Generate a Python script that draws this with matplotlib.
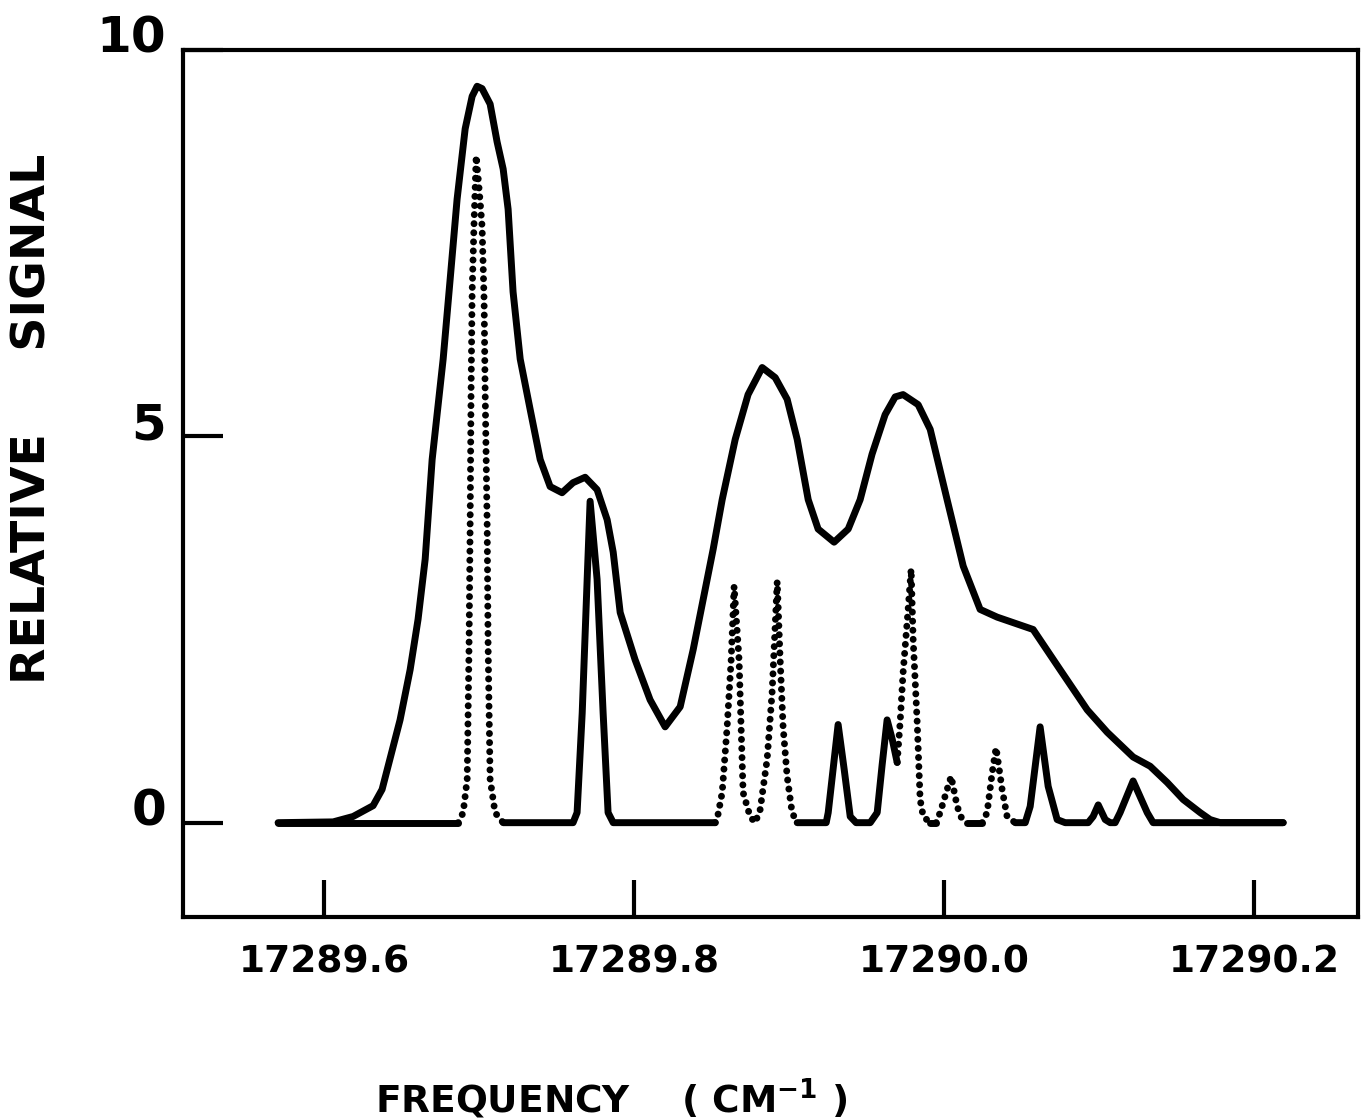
import numpy as np
import matplotlib
matplotlib.use("Agg")
import matplotlib.pyplot as plt
import matplotlib.transforms as mtransforms

# ---------------- data ----------------
# Observed (broad) envelope
env_x = [17289.5703, 17289.6058, 17289.6187, 17289.6316, 17289.6374, 17289.6490,
         17289.6555, 17289.6606, 17289.6652, 17289.6697, 17289.6768, 17289.6813,
         17289.6858, 17289.6910, 17289.6955, 17289.6987, 17289.7019, 17289.7071, 17289.7116,
         17289.7155, 17289.7187, 17289.7219, 17289.7265, 17289.7329, 17289.7394,
         17289.7458, 17289.7535, 17289.7606, 17289.7684, 17289.7761, 17289.7826,
         17289.7865, 17289.7910, 17289.8006, 17289.8103, 17289.8200, 17289.8297,
         17289.8381, 17289.8510, 17289.8568, 17289.8652, 17289.8735, 17289.8826,
         17289.8910, 17289.8987, 17289.9052, 17289.9123, 17289.9187, 17289.9290,
         17289.9381, 17289.9458, 17289.9535, 17289.9619, 17289.9684, 17289.9735,
         17289.9832, 17289.9910, 17290.0019, 17290.0123, 17290.0232, 17290.0342,
         17290.0574, 17290.0748, 17290.0923, 17290.1052, 17290.1219, 17290.1329,
         17290.1439, 17290.1542, 17290.1652, 17290.1716, 17290.1781, 17290.2187]
env_y = [0.00, 0.01, 0.08, 0.22, 0.43, 1.33,
         1.98, 2.63, 3.41, 4.70, 6.00, 7.03,
         8.07, 8.98, 9.40, 9.53, 9.50, 9.30, 8.81,
         8.46, 7.94, 6.87, 6.00, 5.35, 4.70,
         4.35, 4.27, 4.40, 4.47, 4.31, 3.92,
         3.50, 2.72, 2.11, 1.59, 1.24, 1.50,
         2.24, 3.54, 4.18, 4.96, 5.54, 5.89,
         5.76, 5.48, 4.96, 4.18, 3.80, 3.63,
         3.80, 4.18, 4.77, 5.28, 5.51, 5.54,
         5.41, 5.09, 4.18, 3.32, 2.76, 2.66,
         2.50, 1.98, 1.46, 1.17, 0.85, 0.73,
         0.52, 0.30, 0.13, 0.04, 0.00, 0.00]

# Calculated line spectrum (narrow peaks)
line_x = [17289.5703, 17289.6865,
          17289.6897, 17289.6923, 17289.6935, 17289.6942, 17289.6948, 17289.6955, 17289.6968, 17289.6981,
          17289.7000, 17289.7019, 17289.7032, 17289.7039, 17289.7052, 17289.7058, 17289.7071, 17289.7103, 17289.7155,
          17289.7606, 17289.7632, 17289.7665, 17289.7697, 17289.7716, 17289.7761, 17289.7800, 17289.7832, 17289.7865,
          17289.8523, 17289.8535, 17289.8568, 17289.8600, 17289.8626, 17289.8645, 17289.8677, 17289.8690, 17289.8703,
          17289.8748, 17289.8781, 17289.8813, 17289.8858, 17289.8890, 17289.8923, 17289.8942, 17289.8961, 17289.8987,
          17289.9019, 17289.9052,
          17289.9239, 17289.9252, 17289.9316, 17289.9355, 17289.9394, 17289.9432,
          17289.9523, 17289.9568, 17289.9600, 17289.9632, 17289.9665, 17289.9697,
          17289.9716, 17289.9735, 17289.9761, 17289.9787, 17289.9800, 17289.9826, 17289.9845, 17289.9865, 17289.9910,
          17289.9948, 17289.9974, 17290.0013, 17290.0045, 17290.0084, 17290.0116, 17290.0148,
          17290.0245, 17290.0277, 17290.0310, 17290.0335, 17290.0374, 17290.0406, 17290.0458,
          17290.0523, 17290.0555, 17290.0619, 17290.0671, 17290.0729, 17290.0781,
          17290.0929, 17290.0961, 17290.0994, 17290.1039, 17290.1071,
          17290.1103, 17290.1135, 17290.1219, 17290.1310, 17290.1348, 17290.2187]
line_y = [0.00, 0.00,
          0.13, 0.56, 2.28, 3.83, 5.57, 6.87, 7.81, 8.63,
          8.20, 7.72, 6.77, 5.57, 3.83, 2.28, 0.56, 0.13, 0.00,
          0.00, 0.13, 1.42, 3.15, 4.16, 3.15, 1.42, 0.13, 0.00,
          0.00, 0.04, 0.39, 1.24, 2.11, 3.06, 2.11, 1.24, 0.39,
          0.08, 0.00, 0.17, 0.82, 1.68, 3.12, 2.11, 1.24, 0.60,
          0.13, 0.00,
          0.00, 0.13, 1.27, 0.69, 0.08, 0.00,
          0.00, 0.13, 0.75, 1.33, 1.08, 0.78,
          1.30, 1.94, 2.59, 3.28, 2.37, 1.30, 0.30, 0.08, 0.00,
          0.00, 0.13, 0.39, 0.60, 0.21, 0.04, 0.00,
          0.00, 0.13, 0.65, 0.97, 0.43, 0.08, 0.00,
          0.00, 0.21, 1.24, 0.47, 0.04, 0.00,
          0.00, 0.08, 0.23, 0.04, 0.00,
          0.00, 0.13, 0.54, 0.13, 0.00, 0.00]

# Frequency ranges in which the line spectrum is drawn dotted
dotted_spans = [(17289.6865, 17289.7155), (17289.8523, 17289.9052),
                (17289.9697, 17289.9910), (17289.9948, 17290.0148),
                (17290.0245, 17290.0458)]

x_ticks = [17289.6, 17289.8, 17290.0, 17290.2]
x_ticklabels = ["17289.6", "17289.8", "17290.0", "17290.2"]
y_ticks = [0, 5, 10]
y_ticklabels = ["0", "5", "10"]

# ---------------- figure ----------------
fig = plt.figure(figsize=(13.65, 11.2), dpi=100)
ax = fig.add_axes([0.1341, 0.1813, 0.8608, 0.7741])

ink = "black"
lw = 5.0

ax.plot(env_x, env_y, color=ink, lw=lw, solid_capstyle="round",
        solid_joinstyle="round")

# split line spectrum into solid / dotted pieces
lx = np.array(line_x)
ly = np.array(line_y)

def is_dotted(xm):
    return any(a <= xm <= b for a, b in dotted_spans)

pieces = []
cur_style = None
cur = []
for i in range(len(lx) - 1):
    st = is_dotted(0.5 * (lx[i] + lx[i + 1]))
    if st != cur_style:
        if cur:
            pieces.append((cur_style, cur))
        cur = [i]
        cur_style = st
    cur.append(i + 1)
if cur:
    pieces.append((cur_style, cur))

for dotted, idx in pieces:
    idx = sorted(set(idx))
    if dotted:
        ax.plot(lx[idx], ly[idx], color=ink, lw=5.0,
                linestyle=(0, (0.01, 1.3)), dash_capstyle="round")
    else:
        ax.plot(lx[idx], ly[idx], color=ink, lw=lw, solid_capstyle="round",
                solid_joinstyle="round")

ax.set_xlim(17289.509, 17290.267)
ax.set_ylim(-1.22, 10.0)

for sp in ax.spines.values():
    sp.set_linewidth(3.0)
    sp.set_color(ink)

ax.set_xticks(x_ticks)
ax.set_xticklabels(x_ticklabels, fontsize=27, fontweight="bold")
ax.set_yticks(y_ticks)
ax.set_yticklabels(y_ticklabels, fontsize=36, fontweight="bold")
ax.tick_params(axis="x", direction="in", length=27, width=3.0, pad=20,
               top=False)
ax.tick_params(axis="y", direction="in", length=29, width=3.0, pad=12,
               right=False)

offset = mtransforms.ScaledTranslation(0, 0.16, fig.dpi_scale_trans)
for lab in ax.get_yticklabels():
    lab.set_transform(lab.get_transform() + offset)

fig.text(0.024, 0.626, "RELATIVE     SIGNAL", rotation=90, ha="center",
         va="center", fontsize=34, fontweight="bold")
fig.text(0.2747, 0.019, r"FREQUENCY    ( CM$^{\mathbf{-1}}$ )", ha="left",
         va="center", fontsize=27, fontweight="bold")

fig.savefig("out.png", dpi=100)
